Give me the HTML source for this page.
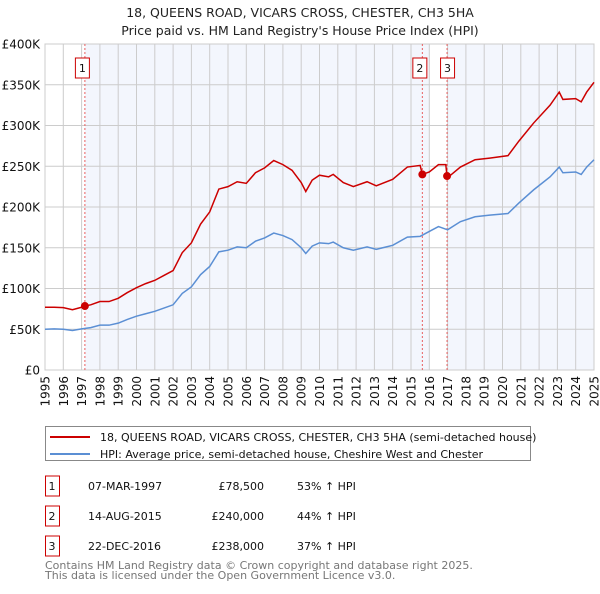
<!DOCTYPE html>
<html><head><meta charset="utf-8">
<style>
body{margin:0;background:#fff;font-family:"DejaVu Sans","Liberation Sans",sans-serif;}
svg text{font-family:"DejaVu Sans","Liberation Sans",sans-serif;}
</style></head>
<body>
<svg id="chart" width="600" height="590" viewBox="0 0 600 590" xmlns="http://www.w3.org/2000/svg">
<text x="300" y="17" text-anchor="middle" font-size="12.5" fill="#222">18, QUEENS ROAD, VICARS CROSS, CHESTER, CH3 5HA</text>
<text x="300" y="35" text-anchor="middle" font-size="12.5" fill="#222">Price paid vs. HM Land Registry's House Price Index (HPI)</text>
<g id="plot"></g>
<g>
<rect x="45.5" y="426.5" width="485" height="34" fill="#fff" stroke="#888"/>
<line x1="50" y1="437" x2="90" y2="437" stroke="#cc0000" stroke-width="2"/>
<text x="100" y="441" font-size="11" fill="#111">18, QUEENS ROAD, VICARS CROSS, CHESTER, CH3 5HA (semi-detached house)</text>
<line x1="50" y1="454" x2="90" y2="454" stroke="#5b8fd4" stroke-width="2"/>
<text x="100" y="458" font-size="11" fill="#111">HPI: Average price, semi-detached house, Cheshire West and Chester</text>
</g>
<g id="table"></g>
<text x="45" y="569" font-size="11" fill="#777">Contains HM Land Registry data © Crown copyright and database right 2025.</text>
<text x="45" y="579" font-size="11" fill="#777">This data is licensed under the Open Government Licence v3.0.</text>
</svg>
<script>
const hpiYears=[1995,1995.5,1996,1996.5,1997,1997.5,1998,1998.5,1999,1999.5,2000,2000.5,2001,2001.5,2002,2002.5,2003,2003.5,2004,2004.5,2005,2005.5,2006,2006.5,2007,2007.5,2008,2008.5,2009,2009.25,2009.6,2010,2010.5,2010.75,2011.3,2011.85,2012.6,2013.1,2014,2014.8,2015.5,2016,2016.5,2017,2017.7,2018.5,2019.3,2020.3,2020.9,2021.7,2022.6,2023.1,2023.3,2024,2024.3,2024.6,2025];
const hpiValues=[50,50.5,50,48.5,50.5,52,55,55,57.5,62,66,69,72,76,80,94,102,117,127,145,147,151,150,158,162,168,165,160,150,143,152,156,155,157,150,147,151,148,153,163,164,170,176,172,182,188,190,192,205,221,237,249,242,243,240,249,258];
const redYears=[1995,1995.5,1996,1996.5,1997,1997.18,1997.5,1998,1998.5,1999,1999.5,2000,2000.5,2001,2001.5,2002,2002.5,2003,2003.5,2004,2004.5,2005,2005.5,2006,2006.5,2007,2007.5,2008,2008.5,2009,2009.25,2009.6,2010,2010.5,2010.75,2011.3,2011.85,2012.6,2013.1,2014,2014.8,2015.5,2015.62,2016,2016.5,2016.9,2016.97,2017,2017.7,2018.5,2019.3,2020.3,2020.9,2021.7,2022.6,2023.1,2023.3,2024,2024.3,2024.6,2025];
const redValues=[77,77,76.5,74,77,78.5,80,84,84,88,95,101,106,110,116,122,144,156,179,194,222,225,231,229,242,248,257,252,245,230,219,233,239,237,240,230,225,231,226,234,249,251,240,243,252,252,238,236,249,258,260,263,281,303,325,341,332,333,329,341,353];
const saleYears=[1997.18,2015.62,2016.97];
const saleValues=[78.5,240,238];
const saleLabels=["1","2","3"];
const saleDates=["07-MAR-1997","14-AUG-2015","22-DEC-2016"];
const salePrices=["£78,500","£240,000","£238,000"];
const saleHpi=["53% ↑ HPI","44% ↑ HPI","37% ↑ HPI"];
const yTicks=[0,50,100,150,200,250,300,350,400];
const yTickLabels=["£0","£50K","£100K","£150K","£200K","£250K","£300K","£350K","£400K"];
const xTicks=[];for(let y=1995;y<=2025;y++)xTicks.push(y);

const NS="http://www.w3.org/2000/svg";
const L=45,R=594,T=44,B=370;
const xs=y=>L+(y-1995)/(2025-1995)*(R-L);
const ys=v=>B-v/400*(B-T);
function mk(tag,attrs,parent){const e=document.createElementNS(NS,tag);for(const k in attrs)e.setAttribute(k,attrs[k]);parent.appendChild(e);return e;}
const g=document.getElementById('plot');
// background shading
let e=mk('rect',{x:xs(saleYears[0]),y:T,width:429-xs(saleYears[0]),height:B-T,fill:'#f3f6fd'},g);


e=mk('rect',{x:xs(saleYears[2]),y:T,width:R-xs(saleYears[2]),height:B-T,fill:'#f3f6fd'},g);


// grid
xTicks.forEach(y=>{
  const l=mk('line',{x1:xs(y),x2:xs(y),y1:T,y2:B,stroke:'#cccccc','stroke-width':1},g);
  
  
  const t=mk('text',{x:0,y:0,'font-size':12,fill:'#111','text-anchor':'end',transform:`translate(${xs(y)+4.5},376) rotate(-90)`},g);
  t.textContent=y;
  
  
});
yTicks.forEach((v,i)=>{
  const l=mk('line',{x1:L,x2:R,y1:ys(v),y2:ys(v),stroke:'#cccccc','stroke-width':1},g);
  
  
  const t=mk('text',{x:40,y:ys(v)+4.5,'font-size':12,fill:'#111','text-anchor':'end'},g);
  t.textContent=yTickLabels[i];
  
  
});
mk('rect',{x:L,y:T,width:R-L,height:B-T,fill:'none',stroke:'#cccccc'},g);
// sale lines
saleYears.forEach((y,i)=>{
  const l=mk('line',{x1:xs(y),x2:xs(y),y1:T,y2:B,stroke:'#e86060','stroke-width':1,'stroke-dasharray':'2,2'},g);
  
  
  const bx=mk('rect',{x:xs(y)-6.5-(i===0?3:(i===1?3:0)),y:58,width:14,height:20,fill:'#fff',stroke:'#cc0000'},g);
  
  
  const t=mk('text',{x:xs(y)+0.5-(i===0?3:(i===1?3:0)),y:72,'font-size':11,'text-anchor':'middle',fill:'#111'},g);
  t.textContent=saleLabels[i];
  
  
});
// lines
const hp=mk('polyline',{points:hpiYears.map((y,i)=>xs(y)+','+ys(hpiValues[i])).join(' '),fill:'none',stroke:'#5b8fd4','stroke-width':1.5},g);


const rp=mk('polyline',{points:redYears.map((y,i)=>xs(y)+','+ys(redValues[i])).join(' '),fill:'none',stroke:'#cc0000','stroke-width':1.5},g);


saleYears.forEach((y,i)=>{
  const c=mk('circle',{cx:xs(y),cy:ys(saleValues[i]),r:4,fill:'#cc0000'},g);
  
  
});
// table
const tb=document.getElementById('table');
saleLabels.forEach((s,i)=>{
  const y0=476+i*30;
  const bx=mk('rect',{x:45.5,y:y0,width:14,height:20,fill:'#fff',stroke:'#cc0000'},tb);
  
  
  const vals=[[s,52,'middle'],[saleDates[i],88,'start'],[salePrices[i],264,'end'],[saleHpi[i],297,'start']];
  vals.forEach(([txt,x,a],j)=>{
    const t=mk('text',{x:x,y:y0+14,'font-size':11,'text-anchor':a,fill:'#111'},tb);
    t.textContent=txt;
    
    
  });
});
</script>
</body></html>
